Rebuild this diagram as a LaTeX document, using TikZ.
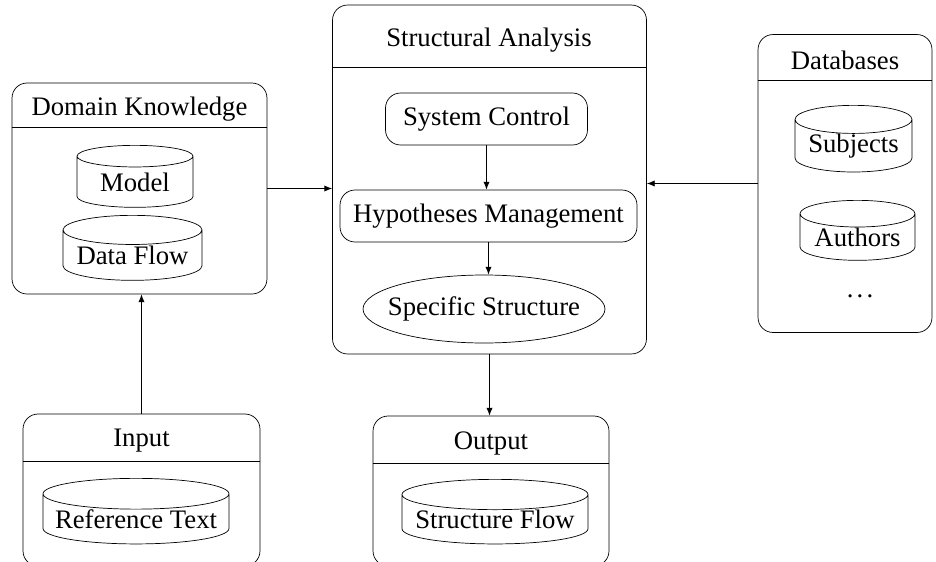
\documentclass[tikz,border=0pt]{standalone}
\usepackage{fontspec}
\setmainfont{Liberation Serif}
\usepackage{tikz}
\usetikzlibrary{arrows.meta,positioning,shapes.geometric}

\begin{document}
\begin{tikzpicture}[x=0.02cm,y=-0.02cm,
font=\fontsize{15.2}{17}\selectfont,
panel/.style={draw,rounded corners=0.3cm,inner sep=0pt},
heading/.style={inner sep=0pt},
store/.style={draw,cylinder,shape border rotate=90,aspect=0.31,inner sep=0pt,anchor=north},
unit/.style={draw,rounded corners=0.3cm,inner sep=0pt},
oval/.style={draw,ellipse,inner sep=0pt},
arr/.style={-{Latex[length=4.5pt,width=3.6pt]},line width=0.55pt}]
\useasboundingbox (0,0) rectangle (936,561);
\clip (0,0) rectangle (936,561);
% domain knowledge
\node[panel,minimum width=5.1cm,minimum height=4.22cm](dk) at (139.5,188.5){};
\node[heading](dkt) at (139.5,109){Domain Knowledge};
\coordinate (dkcut) at (0,127);
\draw (dk.west |- dkcut) -- (dk.east |- dkcut);
\node[store,minimum width=2.32cm,minimum height=1.24cm](model) at (135,145){Model};
\node[store,aspect=0.26,minimum width=2.78cm,minimum height=1.3cm](dataflow) at (132.5,215){Data Flow};
% structural analysis
\node[panel,minimum width=6.28cm,minimum height=6.98cm](sa) at (489.5,179.5){};
\node[heading](sat) at (489,40){Structural Analysis};
\coordinate (sacut) at (0,67);
\draw (sa.west |- sacut) -- (sa.east |- sacut);
\node[unit,minimum width=4.04cm,minimum height=1.04cm](sysctl) at (486.5,119){System Control};
\node[unit,minimum width=5.94cm,minimum height=1.04cm](hyp) at (488.5,216){Hypotheses Management};
\node[oval,minimum width=4.84cm,minimum height=1.36cm](spec) at (484,309){\makebox[0pt]{Specific Structure}};
% databases
\node[panel,minimum width=3.48cm,minimum height=5.96cm](db) at (845,183.5){};
\node[heading](dbt) at (845,60){Databases};
\coordinate (dbcut) at (0,80);
\draw (db.west |- dbcut) -- (db.east |- dbcut);
\node[store,minimum width=2.34cm,minimum height=1.2cm](subj) at (853.5,105){Subjects};
\node[store,minimum width=2.3cm,minimum height=1.2cm](auth) at (857.5,200){Authors};
\node[heading](more) at (860,296){.\kern0.12em.\kern0.12em.};
% input / output
\node[panel,minimum width=4.74cm,minimum height=3.04cm](input) at (141.5,490){};
\node[heading](inputt) at (141.5,441){Input};
\coordinate (inputcut) at (0,461);
\draw (input.west |- inputcut) -- (input.east |- inputcut);
\node[store,aspect=0.19,minimum width=3.72cm,minimum height=1.3cm](reftext) at (136,478){Reference Text};
\node[panel,minimum width=4.72cm,minimum height=3cm](output) at (491,491){};
\node[heading](outputt) at (491,443){Output};
\coordinate (outputcut) at (0,463);
\draw (output.west |- outputcut) -- (output.east |- outputcut);
\node[store,aspect=0.19,minimum width=3.72cm,minimum height=1.26cm](sflow) at (495,479){Structure Flow};
% connectors
\draw[arr](dk.east) -- (dk.east -| sa.west);
\draw[arr](db.west) -- (db.west -| sa.east);
\draw[arr](input.north) -- (input.north |- dk.south);
\draw[arr](sa.south) -- (sa.south |- output.north);
\draw[arr](sysctl.south) -- (sysctl.south |- hyp.north);
\draw[arr](hyp.south) -- (hyp.south |- spec.north);
\end{tikzpicture}
\end{document}
